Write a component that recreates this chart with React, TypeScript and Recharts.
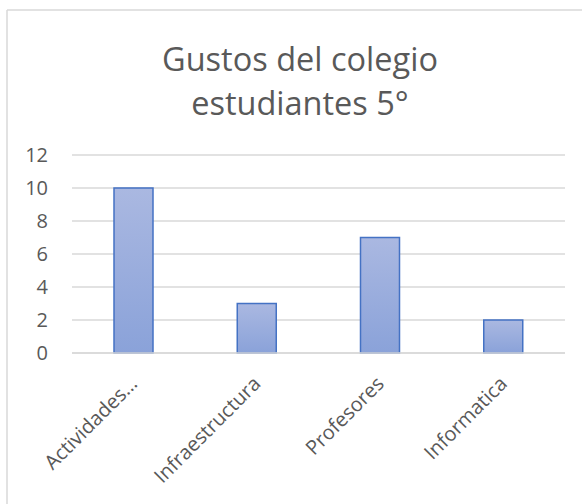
import React from 'react';
import { BarChart, Bar, XAxis, YAxis, CartesianGrid } from 'recharts';

const categories = ['Actividades…', 'Infraestructura', 'Profesores', 'Informatica'];
const values = [10, 3, 7, 2];
const yTicks = [0, 2, 4, 6, 8, 10, 12];
const titleLines = ['Gustos del colegio', 'estudiantes 5°'];

const data = categories.map((c, i) => ({ name: c, value: values[i] }));

const FONT = "'Open Sans', sans-serif";
const TEXT = '#595959';

const XTick = (props: any) => {
  const { x, y, payload } = props;
  const ax = x + 5;
  const ay = y + 32;
  return (
    <text
      x={ax}
      y={ay}
      transform={`rotate(-45 ${ax} ${ay})`}
      textAnchor="end"
      fill={TEXT}
      fontSize={20}
      fontFamily={FONT}
    >
      {payload.value}
    </text>
  );
};

export default function App() {
  return (
    <div style={{ position: 'absolute', left: 0, top: 0, width: 582, height: 504, background: '#fff' }}>
      <svg width={582} height={504} style={{ position: 'absolute', left: 0, top: 0 }}>
        <line x1={7} y1={10} x2={7} y2={504} stroke="#d9d9d9" strokeWidth={1.5} />
        <line x1={7} y1={10} x2={582} y2={10} stroke="#d9d9d9" strokeWidth={1.5} />
        {titleLines.map((t, i) => (
          <text
            key={i}
            x={300}
            y={71 + i * 44}
            textAnchor="middle"
            fill={TEXT}
            fontSize={32.5}
            fontFamily={FONT}
          >
            {t}
          </text>
        ))}
      </svg>
      <div style={{ position: 'absolute', left: 0, top: 0 }}>
        <BarChart
          width={582}
          height={504}
          data={data}
          margin={{ top: 155, right: 17, bottom: 101, left: 32 }}
        >
          <defs>
            <linearGradient id="barGrad" x1="0" y1="0" x2="0" y2="1">
              <stop offset="0%" stopColor="#aab8e1" />
              <stop offset="100%" stopColor="#8aa2d9" />
            </linearGradient>
          </defs>
          <CartesianGrid vertical={false} stroke="#d9d9d9" strokeWidth={1.5} />
          <XAxis
            dataKey="name"
            axisLine={{ stroke: '#d9d9d9', strokeWidth: 1.5 }}
            tickLine={false}
            tickSize={0}
            tickMargin={0}
            interval={0}
            height={50}
            tick={<XTick />}
          />
          <YAxis
            domain={[0, 12]}
            ticks={yTicks}
            width={40}
            axisLine={false}
            tickLine={false}
            tickSize={0}
            tickMargin={24}
            tick={{ fill: TEXT, fontSize: 20, fontFamily: FONT }}
          />
          <Bar
            dataKey="value"
            barSize={39}
            fill="url(#barGrad)"
            stroke="#4472c4"
            strokeWidth={1.5}
            isAnimationActive={false}
          />
        </BarChart>
      </div>
    </div>
  );
}
